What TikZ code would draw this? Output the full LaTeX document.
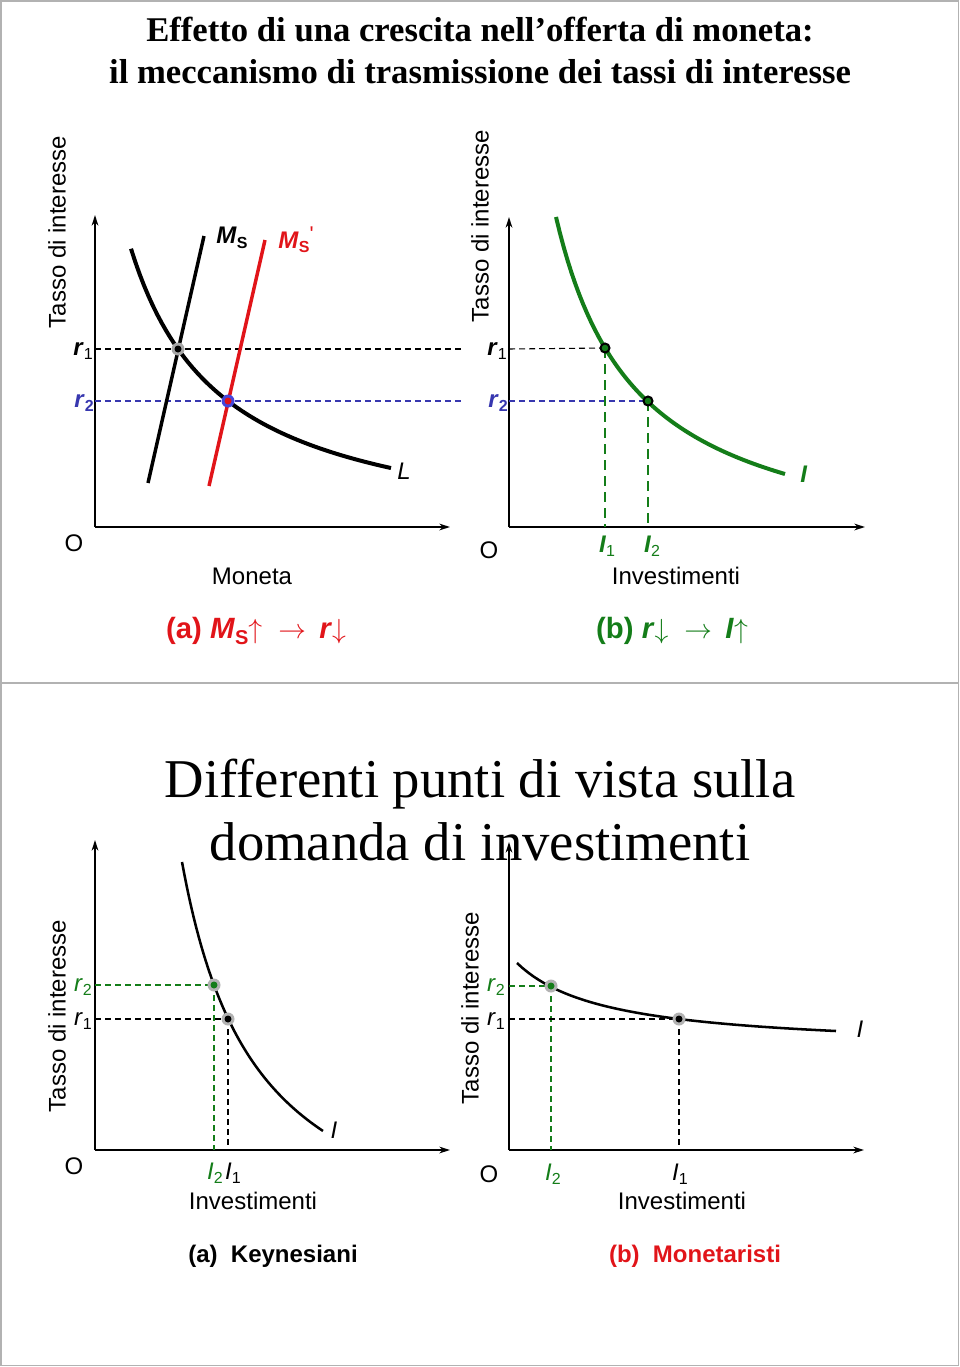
\documentclass[tikz,border=0pt]{standalone}
\usepackage{fontspec}
\setmainfont{Liberation Serif}
\setsansfont{Liberation Sans}
\newfontfamily\arial{Liberation Sans}
\usetikzlibrary{arrows.meta}
\definecolor{myred}{RGB}{225,20,25}
\definecolor{mygreen}{RGB}{20,125,25}
\definecolor{myblue}{RGB}{55,55,175}
\definecolor{ringblue}{RGB}{70,70,220}
\newcommand{\subx}[1]{\raisebox{-0.35ex}{\fontsize{12}{12}\selectfont #1}}
\newcommand{\subc}[1]{\raisebox{-0.35ex}{\fontsize{15}{15}\selectfont #1}}
\newcommand{\bi}[1]{\textbf{\textit{#1}}}
\begin{document}
\begin{tikzpicture}[x=0.75pt,y=-0.75pt,
  font=\arial\fontsize{18}{20}\selectfont,
  axis/.style={line width=1.9pt,-{Stealth[length=8pt,width=5pt]}},
  axisb/.style={line width=1.7pt,-{Stealth[length=8pt,width=5pt]}},
  dashline/.style={line width=0.8pt,dash pattern=on 4.5pt off 3pt},
  gdash/.style={line width=2pt,dash pattern=on 7.5pt off 4.5pt,mygreen},
  lbl/.style={inner sep=0pt},
  capt/.style={inner sep=0pt,font=\arial\bfseries\fontsize{22}{24}\selectfont},
  rotlbl/.style={rotate=90,inner sep=0pt}]
\useasboundingbox (0,0) rectangle (960,1367);
% slide frames
\draw[gray!60,line width=1.2pt] (1,1) rectangle (958.5,1365.5);
\draw[gray!60,line width=1.2pt] (1,683) -- (958.5,683);

% ===== top slide title
\node[lbl,anchor=base,font=\rmfamily\bfseries\fontsize{26}{30}\selectfont] (t1) at (480,41) {Effetto di una crescita nell’offerta di moneta:};
\node[lbl,anchor=base,font=\rmfamily\bfseries\fontsize{26}{30}\selectfont] (t2) at (480,83) {il meccanismo di trasmissione dei tassi di interesse};

% ===== graph (a)
\coordinate (aO) at (95,527);
\coordinate (aY) at (95,215);
\coordinate (aX) at (450,527);
\draw[axis] (aO) -- (aY);
\draw[axis] (aO) -- (aX);
\coordinate (ar1s) at (95,349);
\coordinate (ar1e) at (463,349);
\coordinate (ar2s) at (95,401);
\coordinate (ar2e) at (463,401);
\draw[dashline] (ar1s) -- (ar1e);
\draw[dashline,myblue] (ar2s) -- (ar2e);
\coordinate (ms1) at (148,483);
\coordinate (ms2) at (204,236);
\coordinate (msp1) at (209,486);
\coordinate (msp2) at (265,240);
\draw[line width=2.6pt] (ms1) -- (ms2);
\draw[line width=2.6pt,myred] (msp1) -- (msp2);
\draw[line width=3pt,samples=60,domain=131:391] plot (\x,{545.8-273.9/((\x-38.8)/100)});
\coordinate (aP1) at (178,349);
\coordinate (aP2) at (228,401);
\fill[gray!70] (aP1) circle (6.5);
\fill[black] (aP1) circle (3.5);
\fill[ringblue] (aP2) circle (6.5);
\fill[myred] (aP2) circle (3.5);
\node[lbl] (msl) at (232,238) {\bi{M}\subx{\textbf{S}}};
\node[lbl,text=myred] (mspl) at (296,240) {\bi{M}\subx{\textbf{S}}\raisebox{0.5ex}{\fontsize{16}{16}\selectfont\textquotesingle}};
\node[lbl] (Ll) at (404,471) {\textit{L}};
\node[lbl,anchor=east] (ar1l) at (93,351) {\bi{r}\subx{1}};
\node[lbl,anchor=east,text=myblue] (ar2l) at (94,403) {\bi{r}\subx{\textbf{2}}};
\node[lbl] (aOl) at (74,543) {O};
\node[lbl] (amon) at (252,576) {Moneta};
\node[rotlbl] (ayl) at (57,232) {Tasso di interesse};
\node[capt,text=myred] (acap) at (256,631) {(a) \bi{M}\subc{\textbf{S}}$\uparrow$\hspace{12pt}$\rightarrow$\hspace{10pt}\bi{r}$\downarrow$};

% ===== graph (b)
\coordinate (bO) at (509,527);
\coordinate (bY) at (509,217);
\coordinate (bX) at (865,527);
\draw[axis] (bO) -- (bY);
\draw[axis] (bO) -- (bX);
\coordinate (bP1) at (605,348);
\coordinate (bP2) at (648,401);
\coordinate (br1s) at (509,349);
\coordinate (br2s) at (509,401);
\draw[dashline] (br1s) -- (bP1);
\draw[dashline,myblue] (br2s) -- (bP2);
\draw[gdash] (bP1) -- (605,527);
\draw[gdash] (bP2) -- (648,527);
\draw[line width=3pt,mygreen,samples=60,domain=556:785] plot (\x,{565.2-282.93/((\x-474.75)/100)});
\filldraw[fill=mygreen,draw=black,line width=1.5pt] (bP1) circle (4.5);
\filldraw[fill=mygreen,draw=black,line width=1.5pt] (bP2) circle (4.5);
\node[lbl,text=mygreen] (bIl) at (804,474) {\bi{I}};
\node[lbl,text=mygreen] (bI1) at (607,546) {\bi{I}\subx{1}};
\node[lbl,text=mygreen] (bI2) at (652,546) {\bi{I}\subx{2}};
\node[lbl,anchor=east] (br1l) at (507,351) {\bi{r}\subx{1}};
\node[lbl,anchor=east,text=myblue] (br2l) at (508,403) {\bi{r}\subx{\textbf{2}}};
\node[lbl] (bOl) at (489,550) {O};
\node[lbl] (binv) at (676,576) {Investimenti};
\node[rotlbl] (byl) at (480,226) {Tasso di interesse};
\node[capt,text=mygreen] (bcap) at (672,631) {(b) \bi{r}$\downarrow$\hspace{12pt}$\rightarrow$\hspace{10pt}\bi{I}$\uparrow$};

% ===== bottom slide title
\node[lbl,anchor=base,font=\rmfamily\fontsize{41}{44}\selectfont] (t3) at (480,797) {Differenti punti di vista sulla};
\node[lbl,anchor=base,font=\rmfamily\fontsize{41}{44}\selectfont] (t4) at (480,860) {domanda di investimenti};

% ===== graph (c) Keynesiani
\coordinate (cO) at (95,1150);
\coordinate (cY) at (95,840);
\coordinate (cX) at (450,1150);
\draw[axisb] (cO) -- (cY);
\draw[axisb] (cO) -- (cX);
\coordinate (cP2) at (214,985);
\coordinate (cP1) at (228,1019);
\draw[dashline,mygreen] (95,985) -- (cP2);
\draw[dashline,mygreen] (cP2) -- (214,1150);
\draw[dashline] (95,1019) -- (cP1);
\draw[dashline] (cP1) -- (228,1150);
\draw[line width=1.9pt,samples=60,domain=182:323] plot (\x,{1274.8-311.27/((\x-106.6)/100)});
\fill[gray!60] (cP2) circle (6.5);
\fill[mygreen] (cP2) circle (3.5);
\fill[gray!60] (cP1) circle (6.5);
\fill[black] (cP1) circle (3.5);
\node[lbl] (cIl) at (334,1130) {\textit{I}};
\node[lbl,text=mygreen] (cI2) at (215,1173) {\textit{I}\subx{2}};
\node[lbl] (cI1) at (233,1173) {\textit{I}\subx{1}};
\node[lbl,anchor=east,text=mygreen] (cr2l) at (92,987) {\textit{r}\subx{2}};
\node[lbl,anchor=east] (cr1l) at (92,1021) {\textit{r}\subx{1}};
\node[lbl] (cOl) at (74,1166) {O};
\node[lbl] (cinv) at (253,1201) {Investimenti};
\node[rotlbl] (cyl) at (57,1016) {Tasso di interesse};
\node[lbl,font=\arial\bfseries\fontsize{18}{20}\selectfont] (ccap) at (273,1256) {(a)\ \ Keynesiani};

% ===== graph (d) Monetaristi
\coordinate (dO) at (509,1150);
\coordinate (dY) at (509,842);
\coordinate (dX) at (864,1150);
\draw[axisb] (dO) -- (dY);
\draw[axisb] (dO) -- (dX);
\coordinate (dP2) at (551,986);
\coordinate (dP1) at (679,1019);
\draw[dashline,mygreen] (509,986) -- (dP2);
\draw[dashline,mygreen] (dP2) -- (551,1150);
\draw[dashline] (509,1019) -- (dP1);
\draw[dashline] (dP1) -- (679,1150);
\draw[line width=1.9pt,samples=60,domain=517:836] plot (\x,{1050.3-79.05/((\x-426.45)/100)});
\fill[gray!60] (dP2) circle (6.5);
\fill[mygreen] (dP2) circle (3.5);
\fill[gray!60] (dP1) circle (6.5);
\fill[black] (dP1) circle (3.5);
\node[lbl] (dIl) at (860,1029) {\textit{I}};
\node[lbl,text=mygreen] (dI2) at (553,1174) {\textit{I}\subx{2}};
\node[lbl] (dI1) at (680,1174) {\textit{I}\subx{1}};
\node[lbl,anchor=east,text=mygreen] (dr2l) at (505,987) {\textit{r}\subx{2}};
\node[lbl,anchor=east] (dr1l) at (505,1021) {\textit{r}\subx{1}};
\node[lbl] (dOl) at (489,1174) {O};
\node[lbl] (dinv) at (682,1201) {Investimenti};
\node[rotlbl] (dyl) at (470,1008) {Tasso di interesse};
\node[lbl,text=myred,font=\arial\bfseries\fontsize{18}{20}\selectfont] (dcap) at (695,1256) {(b)\ \ Monetaristi};
\end{tikzpicture}
\end{document}
